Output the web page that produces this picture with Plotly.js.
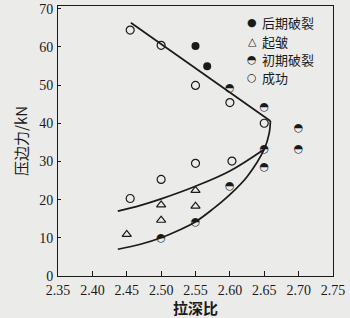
<!DOCTYPE html>
<html>
<head>
<meta charset="utf-8">
<script src="https://cdn.plot.ly/plotly-3.0.1.min.js"></script>
<style>
  html, body { margin: 0; padding: 0; background: #ebebe9; }
  #chart { width: 350px; height: 318px; }
</style>
</head>
<body>
<div id="chart"></div>
<script>
// 后期破裂 (late fracture)
const lateX = [2.55, 2.567];
const lateY = [60.2, 54.9];

// 起皱 (wrinkling)
const wrinkleX = [2.45, 2.50, 2.50, 2.55, 2.55];
const wrinkleY = [10.9, 18.6, 14.6, 22.4, 18.3];

// 初期破裂 (early fracture)
const earlyX = [2.60, 2.65, 2.70, 2.70, 2.65, 2.65, 2.60, 2.55, 2.50];
const earlyY = [49.1, 44.1, 38.7, 33.3, 33.3, 28.6, 23.4, 14.1, 10.0];

// 成功 (success)
const okX = [2.455, 2.50, 2.55, 2.60, 2.65, 2.455, 2.50, 2.55, 2.603];
const okY = [64.4, 60.4, 49.9, 45.4, 40.0, 20.3, 25.3, 29.5, 30.1];

// fracture limit: straight segment and the curved lower branch
const upperLineX = [2.456, 2.659];
const upperLineY = [66.3, 40.6];
const lowerCurveX = [2.659, 2.657, 2.650, 2.625, 2.60, 2.575, 2.55, 2.525, 2.50, 2.47, 2.437];
const lowerCurveY = [40.6, 37.2, 33.2, 26.0, 21.3, 17.5, 14.2, 11.9, 10.0, 8.3, 7.0];

// wrinkling limit
const wrinkleCurveX = [2.437, 2.47, 2.50, 2.55, 2.60, 2.65];
const wrinkleCurveY = [17.0, 18.5, 20.2, 23.5, 27.5, 33.2];

const xTicks = [2.35, 2.40, 2.45, 2.50, 2.55, 2.60, 2.65, 2.70, 2.75];
const xTickText = ['2.35', '2.40', '2.45', '2.50', '2.55', '2.60', '2.65', '2.70', '2.75'];
const yTicks = [0, 10, 20, 30, 40, 50, 60, 70];

const legendSymbols = ['●', '△', '◓', '○'];
const legendLabels = ['后期破裂', '起皱', '初期破裂', '成功'];

const ink = '#1a1a1a';
const cjk = '"Noto Sans CJK SC", "Noto Sans", sans-serif';
const serif = '"Liberation Serif", "DejaVu Serif", serif';

const traces = [
  { x: upperLineX, y: upperLineY, mode: 'lines', line: { color: ink, width: 1.7 }, hoverinfo: 'skip' },
  { x: lowerCurveX, y: lowerCurveY, mode: 'lines', line: { color: ink, width: 1.7, shape: 'spline', smoothing: 1 }, hoverinfo: 'skip' },
  { x: wrinkleCurveX, y: wrinkleCurveY, mode: 'lines', line: { color: ink, width: 1.7, shape: 'spline', smoothing: 1 }, hoverinfo: 'skip' },
  { x: okX, y: okY, mode: 'markers', name: '成功',
    marker: { symbol: 'circle-open', size: 8, color: ink, line: { width: 1.2, color: ink } } },
  { x: wrinkleX, y: wrinkleY, mode: 'markers', name: '起皱',
    marker: { symbol: 'triangle-up-open', size: 8, color: ink, line: { width: 1.2, color: ink } } },
  { x: lateX, y: lateY, mode: 'markers', name: '后期破裂',
    marker: { symbol: 'circle', size: 8, color: ink } },
  // half-filled circle glyph for the early-fracture points
  { x: earlyX, y: earlyY, mode: 'text', name: '初期破裂', text: earlyX.map(() => '◓'),
    textposition: 'middle center',
    textfont: { family: 'DejaVu Sans', size: 11, color: ink } }
];

// legend: one row per series, symbol then label
const rowPix = [22.5, 41, 59.5, 78];
const annotations = [];
rowPix.forEach((yPix, i) => {
  const yPaper = 1 - (yPix - 6) / 270;
  annotations.push({
    xref: 'paper', yref: 'paper', x: (252 - 58) / 275, y: yPaper,
    text: legendSymbols[i], showarrow: false, xanchor: 'center', yanchor: 'middle', borderpad: 0,
    font: { family: 'DejaVu Sans', size: 11, color: ink }
  });
  annotations.push({
    xref: 'paper', yref: 'paper', x: (261 - 58) / 275, y: yPaper,
    text: legendLabels[i], showarrow: false, xanchor: 'left', yanchor: 'middle', borderpad: 0,
    font: { family: cjk, size: 13, color: ink }
  });
});

const layout = {
  width: 350, height: 318,
  margin: { l: 58, r: 17, t: 6, b: 42 },
  paper_bgcolor: '#ebebe9',
  plot_bgcolor: '#ebebe9',
  showlegend: false,
  xaxis: {
    range: [2.35, 2.75], tickvals: xTicks, ticktext: xTickText,
    ticks: 'inside', ticklen: 5, tickwidth: 1, tickcolor: ink,
    showline: true, linecolor: ink, linewidth: 1, mirror: true,
    showgrid: false, zeroline: false, ticklabelstandoff: 1,
    tickfont: { family: serif, size: 14, color: ink },
    title: { text: '拉深比', font: { family: cjk, size: 15, color: ink, weight: 'bold' }, standoff: 1 }
  },
  yaxis: {
    range: [0, 70.7], tickvals: yTicks,
    ticks: 'inside', ticklen: 3, tickwidth: 1, tickcolor: ink,
    showline: true, linecolor: ink, linewidth: 1, mirror: true,
    showgrid: false, zeroline: false, ticklabelstandoff: 1,
    tickfont: { family: serif, size: 14, color: ink },
    title: { text: '压边力/kN', font: { family: cjk, size: 15, color: ink }, standoff: 7 }
  },
  annotations: annotations
};

Plotly.newPlot('chart', traces, layout, { displayModeBar: false, staticPlot: true });
</script>
</body>
</html>
